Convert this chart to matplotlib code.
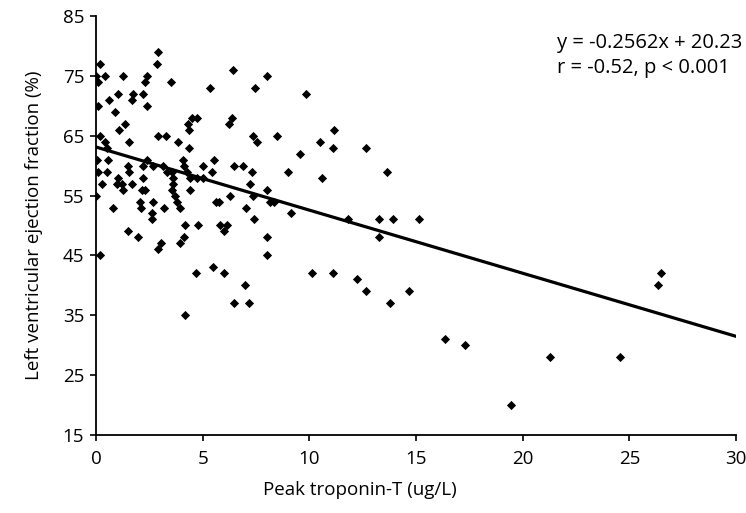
import numpy as np
import matplotlib
matplotlib.use("Agg")
import matplotlib.pyplot as plt

# Valores (troponina-T de pico, FEVE %)
troponin = [
    2.92, 2.88, 0.19, 0.0, 0.42, 1.28, 2.38, 6.44, 8.0, 0.11, 2.3, 3.5, 5.35, 7.46,
    1.05, 0.63, 1.75, 1.67, 2.19, 2.41, 0.11, 0.89, 1.36, 1.1, 4.33, 4.49, 4.72, 4.38,
    6.36, 6.25, 2.92, 3.28, 7.38, 7.54, 0.19, 0.42, 1.56, 0.5, 3.86, 4.38, 0.06, 0.58,
    2.38, 4.06, 5.55, 1.52, 2.22, 2.69, 3.13, 4.14, 5.0, 6.47, 6.91, 0.11, 0.5, 1.56,
    3.31, 3.55, 4.25, 5.42, 7.3, 1.05, 2.22, 3.63, 4.41, 4.72, 5.03, 0.27, 0.97, 1.2,
    1.67, 3.63, 7.22, 1.25, 2.14, 2.3, 3.55, 4.41, 8.0, 3.71, 6.28, 7.38, 0.0, 2.06,
    2.69, 3.81, 5.63, 5.78, 0.78, 2.09, 3.19, 3.94, 7.04, 2.61, 2.61, 7.41, 4.17, 4.77,
    5.82, 6.16, 1.52, 6.0, 1.99, 4.13, 3.03, 2.92, 3.94, 8.0, 0.19, 8.0, 4.69, 5.5,
    6.02, 7.0, 6.47, 7.16, 4.17, 9.83, 11.16, 8.5, 10.5, 11.1, 12.66, 9.57, 9.02,
    13.63, 10.58, 8.16, 8.35, 9.14, 11.79, 13.27, 13.9, 15.12, 13.27, 10.11, 11.1,
    12.23, 12.65, 13.79, 14.65, 16.37, 17.31, 19.45, 21.3, 24.58, 26.33, 26.5,
]
lvef = [
    79, 77, 77, 75, 75, 75, 75, 76, 75, 74, 74, 74, 73, 73,
    72, 71, 72, 71, 72, 70, 70, 69, 67, 66, 67, 68, 68, 66,
    68, 67, 65, 65, 65, 64, 65, 64, 64, 63, 64, 63, 61, 61,
    61, 61, 61, 60, 60, 60, 60, 60, 60, 60, 60, 59, 59, 59,
    59, 59, 59, 59, 59, 58, 58, 58, 58, 58, 58, 57, 57, 57,
    57, 57, 57, 56, 56, 56, 56, 56, 56, 55, 55, 55, 55, 54,
    54, 54, 54, 54, 53, 53, 53, 53, 53, 52, 51, 51, 50, 50,
    50, 50, 49, 49, 48, 48, 47, 46, 47, 48, 45, 45, 42, 43,
    42, 40, 37, 37, 35, 72, 66, 65, 64, 63, 63, 62, 59,
    59, 58, 54, 54, 52, 51, 51, 51, 51, 48, 42, 42,
    41, 39, 37, 39, 31, 30, 20, 28, 28, 40, 42,
]

# Linha de tendência
fit_intercept = 63.1
fit_slope = -1.054
fit_range = [0, 30]

eq_text = "y = -0.2562x + 20.23"
stat_text = "r = -0.52, p < 0.001"

plt.rcParams['font.family'] = ['Open Sans', 'DejaVu Sans']
fs = 13.5

fig = plt.figure(figsize=(7.46, 5.13), dpi=100)
ax = fig.add_axes([0.1287, 0.152, 0.858, 0.817])

ax.scatter(troponin, lvef, marker='D', s=22, color='black', linewidths=0, zorder=3)

fx = np.array(fit_range)
ax.plot(fx, fit_intercept + fit_slope * fx, color='black', lw=2.3, zorder=2)

ax.set_xlim(0, 30)
ax.set_ylim(15, 85)
ax.set_xticks(range(0, 31, 5))
ax.set_yticks(range(15, 86, 10))
ax.spines['top'].set_visible(False)
ax.spines['right'].set_visible(False)
ax.spines['left'].set_linewidth(1.3)
ax.spines['bottom'].set_linewidth(1.3)
ax.tick_params(direction='out', length=4.5, width=1.2, labelsize=fs)
ax.tick_params(axis='x', pad=6)
ax.tick_params(axis='y', pad=4)

ax.set_xlabel('Peak troponin-T (ug/L)', fontsize=fs)
ax.xaxis.set_label_coords(0.4125, -0.11)
ax.set_ylabel('Left ventricular ejection fraction (%)', fontsize=fs, labelpad=14)

ax.text(21.6, 80.5, eq_text, fontsize=14.5, va='center', ha='left', clip_on=False)
ax.text(21.6, 76.3, stat_text, fontsize=14.5, va='center', ha='left', clip_on=False)

fig.savefig('out.png', dpi=100)
